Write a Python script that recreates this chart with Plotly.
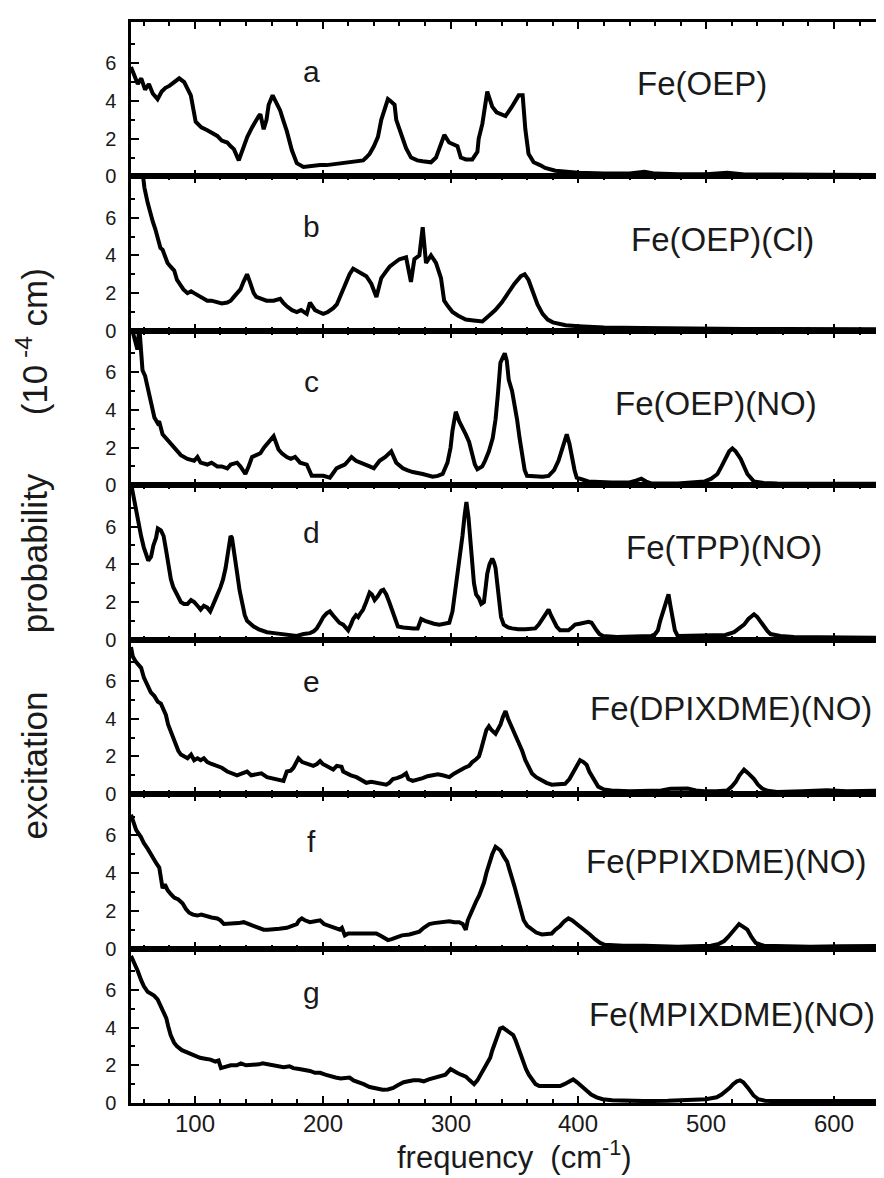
import plotly.graph_objects as go
from plotly.subplots import make_subplots

# ---------------- data ----------------
xa = [50, 52.7, 55.3, 58, 61, 64, 67, 70.8, 74, 77, 80, 83.8, 87.7, 91.6, 94, 96.8, 100.6, 105, 109.7, 113, 117.5, 121, 125.3, 128, 130.5, 134.3, 138.2, 141, 144.7, 147, 149.9, 151.2, 153.8, 156, 157.7, 160.8, 164.2, 166.7, 169, 171.9, 175.8, 179.7, 184.9, 190, 197.9, 203, 208.2, 214, 221.2, 226, 231.6, 234, 236.7, 240, 243.2, 245.8, 249.7, 251, 253, 256.2, 257.5, 261.4, 265.2, 269.1, 274, 278.2, 284.7, 288.6, 292.5, 295.1, 298.9, 302, 305.4, 308, 312, 317, 321, 322, 324.9, 328.7, 332.6, 336, 339, 343, 348, 353.3, 356.4, 358.5, 361, 365, 370, 374, 382, 390, 400, 420, 440, 451.8, 460, 478, 500, 516.6, 530, 555, 590, 620, 643]
ya = [5.8, 5.3, 4.9, 5.2, 4.6, 4.9, 4.4, 4.1, 4.5, 4.7, 4.8, 5.0, 5.2, 5.0, 4.7, 4.3, 2.9, 2.6, 2.45, 2.3, 2.15, 1.9, 1.8, 1.6, 1.45, 0.85, 1.6, 2.1, 2.6, 2.9, 3.2, 3.3, 2.5, 3.0, 3.8, 4.3, 3.8, 3.5, 3.0, 2.4, 1.4, 0.7, 0.5, 0.55, 0.6, 0.6, 0.65, 0.7, 0.75, 0.8, 0.85, 1.0, 1.2, 1.6, 2.1, 3.0, 3.9, 4.1, 4.0, 3.8, 3.0, 2.2, 1.5, 1.0, 0.85, 0.8, 0.75, 1.0, 1.8, 2.2, 1.8, 1.7, 1.6, 1.0, 0.9, 0.9, 1.3, 2.0, 2.8, 4.5, 3.7, 3.4, 3.3, 3.2, 3.7, 4.3, 4.3, 2.5, 1.2, 0.75, 0.6, 0.45, 0.3, 0.25, 0.2, 0.15, 0.15, 0.25, 0.15, 0.12, 0.12, 0.2, 0.1, 0.1, 0.08, 0.08, 0.08]

xb = [58, 60.5, 63, 65, 67, 69, 70.8, 73, 74.7, 77, 78.6, 81, 83.8, 86, 89, 91, 94.2, 97, 99.4, 102, 104.5, 107, 109.7, 113, 117.5, 121, 125.3, 128, 130.5, 133, 135.6, 138, 140.8, 143, 146, 148, 151.2, 156, 161.6, 166.7, 169, 171.9, 176, 179.7, 183, 187.5, 190, 194, 197, 200.4, 204, 208.2, 211, 213.4, 216, 218.6, 221, 223.8, 226, 229, 234.1, 238, 242, 245.8, 249, 252.3, 256, 260, 265.2, 269, 271.7, 275.6, 278.2, 280.8, 284.7, 288.6, 292.5, 295, 298, 301.5, 306, 311.9, 318, 324.9, 330, 335, 340, 345, 350, 355, 358, 361, 365, 368, 372, 376, 380, 390, 400, 420, 450, 480, 500, 530, 560, 600, 643]
yb = [9.0, 7.6, 6.8, 6.2, 5.8, 5.4, 5.0, 4.4, 4.3, 3.8, 3.6, 3.4, 3.2, 2.7, 2.4, 2.2, 2.0, 2.1, 2.0, 1.9, 1.8, 1.7, 1.6, 1.6, 1.5, 1.45, 1.5, 1.6, 1.8, 2.0, 2.2, 2.6, 3.0, 2.6, 2.0, 1.8, 1.7, 1.6, 1.6, 1.7, 1.5, 1.3, 1.1, 1.0, 1.1, 0.9, 1.5, 1.1, 1.0, 0.9, 1.0, 1.2, 1.4, 1.8, 2.2, 2.7, 3.0, 3.3, 3.2, 3.1, 2.9, 2.5, 1.8, 2.8, 3.1, 3.4, 3.6, 3.8, 3.9, 2.6, 3.8, 4.0, 5.5, 3.6, 4.0, 3.6, 2.8, 1.6, 1.3, 1.0, 0.8, 0.6, 0.55, 0.5, 0.8, 1.1, 1.5, 2.0, 2.5, 2.9, 3.0, 2.7, 2.0, 1.4, 0.9, 0.6, 0.45, 0.3, 0.25, 0.18, 0.15, 0.12, 0.15, 0.1, 0.1, 0.08, 0.08]

xc = [50, 53, 55, 56.5, 58, 59, 61, 63, 65.7, 68.3, 70.8, 72, 74.7, 78.6, 81, 83.8, 86, 89, 94.2, 99.4, 102, 104.5, 109.7, 113, 117.5, 121, 125.3, 128, 130.5, 133, 135.6, 139.5, 142, 144.7, 148, 151.2, 154, 156.4, 159, 161.6, 165.4, 168, 171.9, 175, 178.4, 182.3, 187.5, 191.4, 196, 200.4, 205.6, 210.8, 214, 217.3, 220, 222.5, 226, 229, 233, 236.7, 240, 244.5, 249, 253.6, 257.5, 262.7, 266, 270.4, 278.2, 286, 290, 293.8, 297.6, 300, 301.5, 303, 304.1, 306.7, 309.3, 311.9, 314.5, 317, 319, 321, 324.8, 327, 330, 333, 335.2, 337, 339, 341, 342.4, 344, 345.5, 348.1, 350, 352, 354, 355.9, 358, 359.8, 366.3, 372, 376.7, 381, 384.4, 388, 390.9, 393, 394.8, 397, 398.7, 407.8, 425.9, 440, 445, 449.2, 453, 457, 477.7, 490, 498.5, 504, 508.8, 512, 515.3, 518, 520.5, 523, 527, 530, 532.2, 537.4, 545, 555.5, 580, 600, 620, 643]
yc = [8.5, 7.8, 7.2, 8.4, 6.6, 6.1, 5.8, 5.2, 4.5, 3.6, 3.3, 3.4, 2.7, 2.4, 2.2, 2.0, 1.8, 1.6, 1.4, 1.3, 1.5, 1.2, 1.1, 1.2, 1.0, 1.0, 0.9, 1.1, 1.15, 1.2, 1.0, 0.6, 1.0, 1.5, 1.6, 1.7, 2.0, 2.2, 2.4, 2.6, 1.9, 1.7, 1.5, 1.4, 1.5, 1.2, 1.1, 0.5, 0.5, 0.5, 0.4, 0.9, 1.0, 1.1, 1.3, 1.5, 1.3, 1.2, 1.1, 1.0, 0.9, 1.3, 1.5, 1.8, 1.2, 0.9, 0.8, 0.7, 0.6, 0.45, 0.5, 0.6, 1.2, 2.0, 2.9, 3.6, 3.9, 3.4, 3.1, 2.7, 2.3, 1.6, 1.1, 0.85, 1.0, 1.3, 1.8, 2.5, 3.5, 4.8, 6.5, 6.8, 7.0, 6.6, 5.6, 5.0, 4.3, 3.5, 2.5, 1.5, 0.8, 0.5, 0.45, 0.45, 0.5, 0.8, 1.3, 2.1, 2.7, 2.2, 1.5, 0.8, 0.4, 0.2, 0.15, 0.15, 0.25, 0.35, 0.2, 0.1, 0.1, 0.15, 0.2, 0.35, 0.6, 1.0, 1.5, 1.8, 1.95, 1.8, 1.4, 0.9, 0.6, 0.2, 0.12, 0.1, 0.1, 0.08, 0.1, 0.08]

xd = [50, 52, 54, 56, 57.9, 60, 61.8, 63.5, 65.7, 67.5, 69.6, 71, 73.4, 75.5, 77.3, 79, 81.2, 83, 85.1, 87, 89, 91.5, 94.2, 97, 99.4, 102, 104.5, 107, 109.7, 112, 114.9, 117, 120.1, 122, 124, 126, 127.9, 129, 130.5, 131.8, 133.1, 135, 137, 139, 140.8, 143, 146, 150, 156.4, 162, 169.3, 175, 179.7, 185, 190, 193, 195.3, 198, 200.4, 203, 205.6, 208, 210.8, 213, 216, 218, 219.9, 222, 223.8, 226, 227.7, 229.5, 231.6, 234, 236.7, 238.5, 240.6, 243, 245.8, 247.5, 249.7, 252, 254.9, 257, 258.8, 263, 267.8, 271, 274.3, 277, 280, 283.4, 287, 291.2, 295, 299, 301.5, 303.5, 305.4, 307.5, 309.3, 311, 312.4, 314, 315.7, 317, 318.3, 320, 322.2, 324, 326.1, 327.5, 328.7, 330.5, 332.6, 334, 335.2, 336.5, 337.8, 339.5, 341.6, 345, 348.1, 353, 358.5, 362, 366.3, 369, 372.8, 374.5, 376.7, 378.5, 380.5, 383, 385.7, 392.2, 395, 397.4, 401, 405.2, 408, 410.3, 412, 414.2, 416.5, 419.4, 430, 438.9, 450, 457, 460, 462.2, 464, 466.1, 468.5, 470.5, 472, 473.8, 475.5, 477.7, 490, 503.7, 515, 521.8, 526, 529.6, 533, 537.4, 540, 542, 545.1, 548, 550.3, 558, 568.5, 590, 610, 643]
yd = [8.3, 7.6, 6.8, 6.0, 5.5, 4.9, 4.6, 4.2, 4.4, 5.0, 5.4, 5.9, 5.8, 5.5, 4.8, 4.0, 3.2, 2.8, 2.5, 2.2, 2.0, 1.9, 1.9, 2.1, 2.0, 1.8, 1.6, 1.8, 1.7, 1.5, 1.9, 2.3, 2.8, 3.2, 3.8, 4.8, 5.5, 5.4, 4.8, 4.2, 3.5, 2.6, 1.8, 1.3, 1.0, 0.85, 0.7, 0.55, 0.4, 0.35, 0.3, 0.25, 0.2, 0.3, 0.35, 0.45, 0.6, 0.9, 1.2, 1.4, 1.5, 1.3, 1.1, 0.9, 0.8, 0.6, 0.5, 0.8, 1.1, 1.3, 1.2, 1.4, 1.6, 2.0, 2.5, 2.4, 2.1, 2.3, 2.6, 2.65, 2.4, 2.0, 1.5, 1.0, 0.7, 0.65, 0.6, 0.6, 0.6, 1.1, 1.0, 0.9, 0.85, 0.8, 0.85, 0.9, 1.5, 2.5, 3.3, 4.5, 5.5, 6.6, 7.3, 6.5, 5.0, 4.0, 3.0, 2.4, 2.2, 1.9, 2.0, 2.8, 3.5, 4.0, 4.3, 4.1, 3.8, 3.0, 2.0, 1.2, 0.8, 0.65, 0.6, 0.55, 0.55, 0.55, 0.6, 0.8, 1.2, 1.45, 1.6, 1.3, 1.0, 0.7, 0.5, 0.5, 0.65, 0.8, 0.85, 0.9, 0.95, 0.9, 0.7, 0.5, 0.3, 0.2, 0.15, 0.15, 0.15, 0.2, 0.3, 0.5, 1.0, 1.5, 2.1, 2.4, 1.8, 1.0, 0.5, 0.2, 0.2, 0.2, 0.25, 0.4, 0.6, 0.8, 1.1, 1.35, 1.2, 1.0, 0.7, 0.45, 0.3, 0.2, 0.15, 0.12, 0.12, 0.1]

xe = [50, 51.4, 54, 57.9, 60, 63, 65.5, 68.3, 71, 73.4, 75.5, 77.3, 79, 81.2, 83, 85.1, 87, 89, 91.5, 94.2, 97, 99.4, 102, 104.5, 107, 109.7, 113, 117.5, 121, 125.3, 129, 133, 137, 140.8, 144, 148.6, 152, 156.4, 160, 164.2, 169.3, 171.9, 175, 177.1, 179, 181, 184, 187.5, 190, 192.6, 195.5, 197.9, 200, 203, 205.5, 208.2, 211, 214.7, 216, 218.6, 222, 226.4, 230, 234.1, 238, 241.9, 245, 249.7, 252, 254.9, 258, 262, 265.2, 267, 270.4, 274, 278.2, 282, 286, 290, 293.8, 296.5, 299, 303, 306.7, 311, 314.5, 317, 320, 322.2, 324, 326.1, 328, 330, 332, 335.2, 337, 339.1, 341, 343, 345, 348.1, 351, 353.3, 356, 358.5, 361, 363.7, 367, 371.5, 375, 379.2, 384, 389.6, 393, 396.1, 399, 401.3, 404, 406.5, 408.5, 410.3, 413, 415.5, 420, 425.9, 440, 451.8, 464.8, 472, 477.7, 485.5, 492, 498.5, 508, 516.6, 520, 523.1, 526, 529.6, 533, 537.4, 540.5, 543.8, 548, 555.5, 575, 594.4, 610, 633.3, 643]
ye = [7.8, 7.3, 7.0, 6.7, 6.2, 5.8, 5.4, 5.2, 4.9, 4.8, 4.5, 4.2, 3.7, 3.3, 2.9, 2.5, 2.3, 2.1, 2.0, 1.9, 2.1, 1.8, 1.9, 1.8, 1.9, 1.7, 1.6, 1.5, 1.4, 1.2, 1.1, 1.0, 1.1, 1.2, 1.0, 1.05, 1.1, 0.9, 0.85, 0.8, 0.7, 1.2, 1.25, 1.4, 1.6, 1.9, 1.7, 1.6, 1.55, 1.5, 1.6, 1.75, 1.6, 1.5, 1.4, 1.3, 1.5, 1.45, 1.2, 1.1, 1.0, 0.9, 0.75, 0.6, 0.65, 0.6, 0.55, 0.5, 0.6, 0.8, 0.85, 0.95, 1.1, 0.8, 0.7, 0.75, 0.85, 0.95, 1.0, 1.05, 1.0, 0.95, 0.9, 1.1, 1.25, 1.4, 1.5, 1.7, 1.85, 2.0, 2.4, 2.9, 3.4, 3.6, 3.4, 3.2, 3.4, 3.7, 4.1, 4.4, 4.0, 3.5, 3.1, 2.8, 2.3, 1.8, 1.4, 1.1, 0.9, 0.7, 0.6, 0.5, 0.5, 0.55, 0.8, 1.2, 1.6, 1.8, 1.7, 1.55, 1.2, 1.0, 0.6, 0.4, 0.25, 0.2, 0.15, 0.15, 0.2, 0.28, 0.3, 0.3, 0.2, 0.15, 0.15, 0.2, 0.4, 0.65, 1.0, 1.3, 1.1, 0.8, 0.5, 0.3, 0.18, 0.12, 0.15, 0.2, 0.15, 0.2, 0.2]

xf = [50, 51.4, 54, 57.9, 60, 63, 65.5, 68.3, 70, 72.1, 73.5, 74.7, 76.5, 78.6, 81, 83.8, 87, 90.3, 93, 95.5, 98.5, 101.9, 105, 109.7, 113, 117.5, 120, 122.7, 126, 130.5, 134, 138.2, 142, 146, 150, 153.8, 157, 161.6, 166, 171.9, 176, 179.7, 181.5, 183.6, 186, 190, 194, 197.9, 201, 205.6, 209, 213.4, 215, 217.3, 220, 223.8, 228, 234.1, 238, 241.9, 246, 251, 254, 257.5, 262, 267.8, 271, 275.6, 279, 283.4, 287, 291.2, 295, 299, 303, 306.7, 309.5, 311.9, 313.5, 315.8, 318, 320, 322.3, 324, 326.2, 328, 330, 332.6, 335.2, 337, 339.1, 341.5, 344.3, 346, 348.1, 350, 352, 355, 357.2, 360, 363.7, 367, 371.5, 375, 379.2, 382, 385.7, 389, 392.2, 395, 398.7, 402, 405.2, 409, 413, 417, 420.7, 435, 451.8, 465, 477.7, 490, 503.7, 510, 514, 517, 520.5, 523, 525.7, 529, 532.2, 535.5, 538.7, 545.1, 560, 581.4, 605, 633.3, 643]
yf = [7.1, 6.8, 6.3, 5.9, 5.6, 5.3, 5.0, 4.6, 4.5, 4.3, 3.8, 3.2, 3.4, 3.1, 2.9, 2.7, 2.6, 2.4, 2.1, 1.9, 1.8, 1.75, 1.8, 1.7, 1.65, 1.6, 1.5, 1.3, 1.3, 1.3, 1.35, 1.4, 1.3, 1.2, 1.1, 1.0, 1.0, 1.0, 1.05, 1.1, 1.2, 1.3, 1.5, 1.6, 1.5, 1.4, 1.45, 1.5, 1.3, 1.2, 1.1, 1.0, 1.1, 0.7, 0.8, 0.8, 0.8, 0.8, 0.75, 0.8, 0.65, 0.45, 0.5, 0.6, 0.7, 0.75, 0.8, 0.9, 1.1, 1.3, 1.35, 1.4, 1.45, 1.45, 1.4, 1.4, 1.3, 1.0, 1.5, 1.9, 2.2, 2.5, 2.8, 3.1, 3.5, 4.0, 4.5, 5.0, 5.4, 5.3, 5.2, 4.9, 4.6, 4.2, 3.8, 3.3, 2.8, 2.0, 1.5, 1.2, 1.0, 0.85, 0.75, 0.75, 0.8, 1.0, 1.2, 1.45, 1.6, 1.5, 1.3, 1.15, 1.0, 0.75, 0.5, 0.3, 0.2, 0.15, 0.15, 0.12, 0.1, 0.12, 0.15, 0.25, 0.4, 0.6, 0.9, 1.15, 1.3, 1.15, 1.0, 0.6, 0.3, 0.15, 0.12, 0.1, 0.12, 0.15, 0.15]

xg = [50, 51.4, 53, 55.3, 58, 60, 63, 66, 68, 70.8, 73, 75, 77.6, 79, 81, 83.7, 86, 89.8, 93, 96, 100, 104, 108, 112.2, 116, 118.5, 120.4, 124, 128, 132.7, 136, 140, 144.9, 150, 153, 157.1, 162, 166, 169.4, 174, 177, 181.6, 186, 190, 193.9, 198, 202, 206.1, 210, 214, 218.4, 221, 224, 228.6, 232, 236.7, 240, 243, 246.9, 251, 255.1, 259, 263.3, 267, 271, 275.5, 279, 283, 287.8, 292, 296, 300, 302, 305, 308.2, 312, 315, 318.4, 321, 324.5, 328, 331, 332.7, 335, 337, 338.8, 340.8, 343, 345, 347, 349, 351, 353, 355.1, 357, 359, 361.2, 364, 366.5, 369.4, 373, 377, 381, 385.7, 389, 392, 395.9, 399, 401.5, 404.1, 407, 410, 414.3, 419, 426.5, 440, 451, 470, 491.8, 500, 504, 508.2, 512, 515, 518.4, 521, 524, 526.5, 529, 532.7, 535, 537, 540.8, 546, 553.1, 575, 600, 620, 643]
yg = [7.8, 7.6, 7.3, 7.0, 6.5, 6.2, 5.9, 5.8, 5.7, 5.5, 5.2, 4.9, 4.5, 4.1, 3.6, 3.2, 3.0, 2.8, 2.7, 2.6, 2.5, 2.4, 2.35, 2.3, 2.2, 2.25, 1.85, 1.9, 2.0, 2.0, 2.1, 2.0, 2.0, 2.05, 2.1, 2.05, 1.95, 1.9, 1.9, 1.95, 1.85, 1.8, 1.75, 1.7, 1.6, 1.6, 1.5, 1.4, 1.35, 1.3, 1.3, 1.35, 1.2, 1.1, 1.0, 0.85, 0.8, 0.75, 0.7, 0.72, 0.8, 0.95, 1.1, 1.15, 1.2, 1.2, 1.15, 1.25, 1.35, 1.4, 1.5, 1.8, 1.7, 1.6, 1.5, 1.4, 1.2, 1.0, 1.2, 1.6, 2.0, 2.4, 2.8, 3.3, 3.7, 3.95, 4.0, 3.9, 3.8, 3.7, 3.6, 3.3, 2.9, 2.5, 2.1, 1.8, 1.5, 1.2, 1.0, 0.9, 0.9, 0.9, 0.95, 0.9, 1.0, 1.1, 1.25, 1.1, 0.95, 0.8, 0.6, 0.45, 0.3, 0.2, 0.15, 0.12, 0.1, 0.12, 0.15, 0.2, 0.25, 0.3, 0.45, 0.6, 0.8, 1.0, 1.15, 1.2, 1.1, 0.8, 0.6, 0.4, 0.2, 0.12, 0.1, 0.1, 0.1, 0.1, 0.1]

panel_letters = ["a", "b", "c", "d", "e", "f", "g"]
sample_names = ["Fe(OEP)", "Fe(OEP)(Cl)", "Fe(OEP)(NO)", "Fe(TPP)(NO)",
                "Fe(DPIXDME)(NO)", "Fe(PPIXDME)(NO)", "Fe(MPIXDME)(NO)"]
letter_pos = [(191, 5.57), (191, 5.55), (191, 5.5), (191, 5.68), (191, 5.98), (191, 5.66), (191, 5.84)]
name_pos = [(497, 4.93), (513, 4.85), (508, 4.35), (514, 4.88), (519, 4.56), (516, 4.6), (520, 4.68)]
x_tick_values = [100, 200, 300, 400, 500, 600]

xs = [xa, xb, xc, xd, xe, xf, xg]
ys = [ya, yb, yc, yd, ye, yf, yg]

# ---------------- figure ----------------
FONT = "Liberation Sans, Arial, Helvetica, sans-serif"
TXT = "#1a1a1a"
fig = make_subplots(rows=7, cols=1, shared_xaxes=True, vertical_spacing=0)

for i in range(7):
    fig.add_trace(go.Scatter(x=xs[i], y=ys[i], mode="lines",
                             line=dict(color="black", width=4),
                             showlegend=False), row=i + 1, col=1)

for i in range(7):
    r = i + 1
    fig.update_xaxes(row=r, col=1, range=[50, 643], showline=True, linecolor="black",
                     linewidth=2.5, mirror="ticks", ticks="inside", ticklen=7, tickwidth=2.2,
                     tickcolor="black", tick0=0, dtick=100, showgrid=False, zeroline=False,
                     showticklabels=False,
                     minor=dict(dtick=20, tick0=0, ticks="inside", ticklen=4, tickwidth=2.2,
                                tickcolor="black", showgrid=False))
    fig.update_yaxes(row=r, col=1, range=[0, 8.19], showline=True, linecolor="black",
                     linewidth=2.5, mirror="ticks", ticks="inside", ticklen=8, tickwidth=2.2,
                     tickcolor="black", tickvals=[0, 2, 4, 6], showgrid=False, zeroline=False,
                     minor=dict(tickvals=[1, 3, 5, 7], ticks="inside", ticklen=4, tickwidth=2.2,
                                tickcolor="black", showgrid=False),
                     ticklabelstandoff=8,
                     tickfont=dict(family=FONT, size=20, color=TXT))

plot_l, plot_w, plot_t, plot_h = 123, 761, 14, 1081

# bottom frequency tick labels, placed with the bottom panel's x scale
for v in x_tick_values:
    fig.add_annotation(x=v, xref="x7", yref="paper", y=1 - (1115 - plot_t) / plot_h,
                       text=str(v), showarrow=False, xanchor="center", yanchor="middle",
                       font=dict(family=FONT, size=24, color=TXT))

for i in range(7):
    yref = "y" if i == 0 else "y%d" % (i + 1)
    xref = "x" if i == 0 else "x%d" % (i + 1)
    fig.add_annotation(x=letter_pos[i][0], y=letter_pos[i][1], xref=xref, yref=yref,
                       text=panel_letters[i], showarrow=False,
                       font=dict(family=FONT, size=30, color=TXT))
    fig.add_annotation(x=name_pos[i][0], y=name_pos[i][1], xref=xref, yref=yref,
                       text=sample_names[i], showarrow=False,
                       font=dict(family=FONT, size=33, color=TXT))

gap = "&nbsp;" * 6
fig.add_annotation(xref="paper", yref="paper", x=(24 - plot_l) / plot_w,
                   y=1 - (546 - plot_t) / plot_h,
                   text="excitation" + gap + "probability" + gap + "(10<sup> -4</sup> cm)",
                   textangle=-90, showarrow=False, xanchor="center", yanchor="middle",
                   font=dict(family=FONT, size=35, color=TXT))
fig.add_annotation(xref="paper", yref="paper", x=(508 - plot_l) / plot_w,
                   y=1 - (1147 - plot_t) / plot_h,
                   text="frequency&nbsp;&nbsp;(cm<sup>-1</sup>)", showarrow=False,
                   xanchor="center", yanchor="middle",
                   font=dict(family=FONT, size=31, color=TXT))

fig.update_layout(width=884, height=1178, margin=dict(l=123, r=0, t=14, b=83),
                  paper_bgcolor="white", plot_bgcolor="white")

fig.write_html("out.html")
